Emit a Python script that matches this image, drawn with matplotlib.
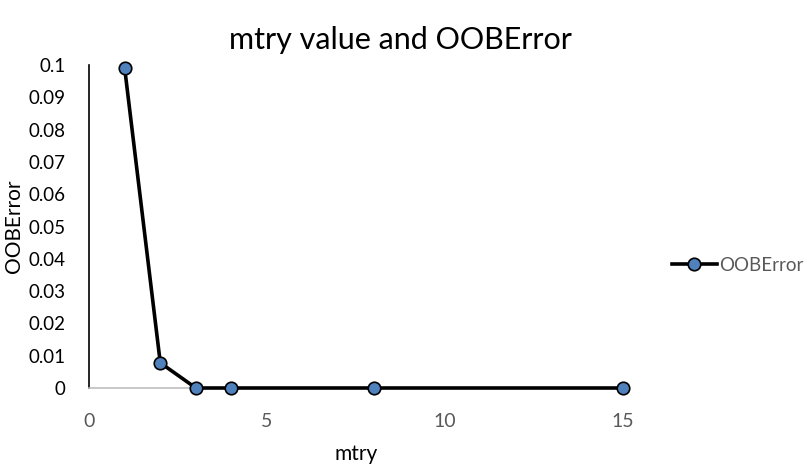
import matplotlib
matplotlib.use("Agg")
from matplotlib import pyplot as plt

plt.rcParams['font.family'] = ['Lato', 'DejaVu Sans']

# data
mtry = [1, 2, 3, 4, 8, 15]
oob_error = [0.099, 0.0078, 0.0, 0.0, 0.0, 0.0]
x_ticks = [0, 5, 10, 15]
y_ticks = [0, 0.01, 0.02, 0.03, 0.04, 0.05, 0.06, 0.07, 0.08, 0.09, 0.1]
y_labels = ["0", "0.01", "0.02", "0.03", "0.04", "0.05", "0.06", "0.07", "0.08", "0.09", "0.1"]

fig = plt.figure(figsize=(8.1, 4.65), dpi=100)
ax = fig.add_axes([0.11, 0.1656, 0.659, 0.6944])

ax.plot(mtry, oob_error, color='black', linewidth=2.6, marker='o',
        markersize=9, markerfacecolor='#4f81bd', markeredgecolor='black',
        markeredgewidth=1.2, label='OOBError', clip_on=False, zorder=3)

ax.set_xlim(0, 15)
ax.set_ylim(0, 0.1)
ax.set_xticks(x_ticks)
ax.set_yticks(y_ticks)
ax.set_yticklabels(y_labels)

for s in ['top', 'right']:
    ax.spines[s].set_visible(False)
ax.spines['left'].set_color('black')
ax.spines['left'].set_linewidth(1.2)
ax.spines['bottom'].set_color('#bfbfbf')
ax.spines['bottom'].set_linewidth(1.2)

ax.tick_params(axis='x', length=0, labelsize=14, colors='#595959', pad=18)
ax.tick_params(axis='y', length=0, labelsize=13.5, colors='black', pad=17)

ax.set_xlabel('mtry', fontsize=15, labelpad=10)
fig.text(0.017, 0.513, 'OOBError', rotation=90, fontsize=15,
         ha='center', va='center')
fig.suptitle('mtry value and OOBError', x=0.494, y=0.945, fontsize=22)

leg = ax.legend(loc='center left', bbox_to_anchor=(1.06, 0.38), frameon=False,
                fontsize=13.5, handlelength=2.4, handletextpad=0.1)
for t in leg.get_texts():
    t.set_color('#595959')

plt.savefig('out.png', dpi=100, facecolor='#FFFFFF')
plt.close()
